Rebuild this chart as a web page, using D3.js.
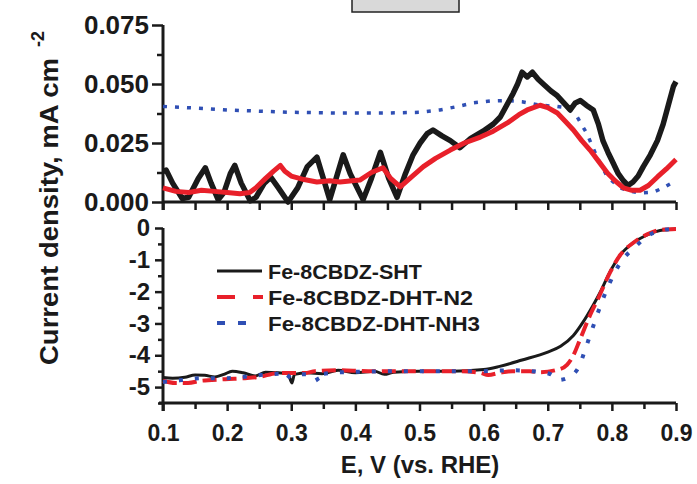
<!DOCTYPE html>
<html>
<head>
<meta charset="utf-8">
<script src="https://cdn.jsdelivr.net/npm/d3@7"></script>
<style>
  html, body { margin: 0; padding: 0; background: #fff; }
  svg { display: block; }
  text { font-family: "Liberation Sans", Arial, Helvetica, sans-serif; font-weight: bold; fill: #1a1a1a; }
</style>
</head>
<body>
<svg id="chart" width="697" height="484"></svg>
<script>
// Upper panel: background-subtracted current density (mA cm^-2) vs E
const topSHT = [
  [0.100,0.0130],[0.105,0.0135],[0.115,0.0080],[0.130,0.0015],[0.140,0.0020],[0.155,0.0100],
  [0.166,0.0145],[0.175,0.0080],[0.186,0.0010],[0.195,0.0040],[0.205,0.0120],[0.212,0.0155],
  [0.222,0.0080],[0.236,0.0005],[0.245,0.0020],[0.258,0.0080],[0.268,0.0105],[0.280,0.0060],
  [0.295,0.0000],[0.310,0.0060],[0.325,0.0150],[0.340,0.0190],[0.350,0.0100],[0.360,0.0010],
  [0.370,0.0100],[0.381,0.0200],[0.392,0.0120],[0.412,0.0010],[0.425,0.0100],[0.439,0.0210],
  [0.452,0.0100],[0.465,0.0020],[0.478,0.0120],[0.490,0.0200],[0.501,0.0250],[0.512,0.0290],
  [0.521,0.0305],[0.535,0.0280],[0.548,0.0260],[0.563,0.0230],[0.580,0.0270],[0.599,0.0300],
  [0.615,0.0330],[0.626,0.0360],[0.636,0.0410],[0.646,0.0460],[0.653,0.0500],[0.660,0.0550],
  [0.668,0.0530],[0.676,0.0550],[0.685,0.0520],[0.693,0.0500],[0.705,0.0470],[0.715,0.0450],
  [0.725,0.0420],[0.735,0.0390],[0.743,0.0420],[0.751,0.0430],[0.760,0.0410],[0.771,0.0390],
  [0.779,0.0330],[0.786,0.0260],[0.794,0.0210],[0.802,0.0165],[0.810,0.0120],[0.818,0.0090],
  [0.825,0.0070],[0.833,0.0085],[0.841,0.0110],[0.849,0.0150],[0.860,0.0200],[0.871,0.0260],
  [0.880,0.0330],[0.888,0.0410],[0.896,0.0490],[0.900,0.0510]
];
const topN2 = [
  [0.100,0.0060],[0.120,0.0045],[0.140,0.0040],[0.160,0.0050],[0.180,0.0045],[0.200,0.0040],
  [0.220,0.0035],[0.235,0.0040],[0.245,0.0060],[0.260,0.0100],[0.272,0.0130],[0.283,0.0155],
  [0.290,0.0130],[0.300,0.0110],[0.320,0.0095],[0.340,0.0085],[0.360,0.0090],[0.376,0.0085],
  [0.395,0.0090],[0.407,0.0093],[0.425,0.0125],[0.443,0.0145],[0.455,0.0100],[0.470,0.0064],
  [0.485,0.0100],[0.506,0.0150],[0.525,0.0185],[0.548,0.0220],[0.570,0.0250],[0.595,0.0275],
  [0.615,0.0300],[0.637,0.0335],[0.655,0.0370],[0.668,0.0390],[0.688,0.0410],[0.700,0.0400],
  [0.715,0.0377],[0.728,0.0340],[0.740,0.0305],[0.753,0.0260],[0.766,0.0220],[0.780,0.0170],
  [0.793,0.0123],[0.805,0.0090],[0.818,0.0060],[0.830,0.0050],[0.844,0.0050],[0.857,0.0070],
  [0.871,0.0106],[0.885,0.0140],[0.900,0.0180]
];
const topNH3 = [
  [0.100,0.0405],[0.150,0.0398],[0.200,0.0390],[0.250,0.0385],[0.300,0.0380],[0.376,0.0377],
  [0.450,0.0377],[0.500,0.0380],[0.532,0.0390],[0.560,0.0405],[0.584,0.0420],[0.610,0.0428],
  [0.637,0.0430],[0.660,0.0425],[0.688,0.0410],[0.715,0.0405],[0.730,0.0400],[0.746,0.0360],
  [0.761,0.0290],[0.777,0.0190],[0.793,0.0106],[0.813,0.0060],[0.830,0.0045],[0.844,0.0038],
  [0.865,0.0042],[0.880,0.0060],[0.896,0.0085]
];

// Lower panel: polarisation curves (mA cm^-2) vs E
const botSHT = [
  [0.100,-4.70],[0.115,-4.72],[0.134,-4.69],[0.150,-4.62],[0.165,-4.63],[0.181,-4.68],
  [0.195,-4.60],[0.208,-4.50],[0.225,-4.55],[0.244,-4.65],[0.260,-4.53],[0.280,-4.55],
  [0.295,-4.58],[0.301,-4.87],[0.305,-4.60],[0.325,-4.55],[0.348,-4.58],[0.373,-4.47],
  [0.400,-4.55],[0.430,-4.50],[0.445,-4.60],[0.460,-4.53],[0.500,-4.50],[0.550,-4.50],
  [0.600,-4.45],[0.625,-4.35],[0.660,-4.15],[0.700,-3.90],[0.720,-3.72],[0.740,-3.38],
  [0.755,-2.96],[0.771,-2.42],[0.782,-2.01],[0.797,-1.38],[0.813,-0.85],[0.833,-0.47],
  [0.855,-0.22],[0.875,-0.08],[0.900,-0.03]
];
const botN2 = [
  [0.100,-4.80],[0.119,-4.87],[0.139,-4.87],[0.160,-4.80],[0.176,-4.78],[0.197,-4.75],
  [0.228,-4.72],[0.250,-4.68],[0.279,-4.56],[0.321,-4.56],[0.337,-4.50],[0.373,-4.47],
  [0.420,-4.50],[0.500,-4.50],[0.560,-4.50],[0.595,-4.55],[0.607,-4.62],[0.625,-4.55],
  [0.645,-4.50],[0.672,-4.50],[0.688,-4.53],[0.716,-4.45],[0.730,-4.30],[0.740,-4.00],
  [0.750,-3.52],[0.766,-2.74],[0.779,-2.20],[0.797,-1.40],[0.813,-0.85],[0.833,-0.47],
  [0.855,-0.20],[0.875,-0.06],[0.900,-0.03]
];
const botNH3 = [
  [0.100,-4.84],[0.130,-4.78],[0.160,-4.72],[0.200,-4.72],[0.239,-4.65],[0.263,-4.60],
  [0.285,-4.58],[0.292,-4.75],[0.300,-4.60],[0.335,-4.60],[0.345,-4.85],[0.350,-4.58],
  [0.400,-4.52],[0.500,-4.50],[0.600,-4.50],[0.643,-4.47],[0.688,-4.53],[0.705,-4.60],
  [0.716,-4.78],[0.730,-4.72],[0.740,-4.60],[0.750,-4.30],[0.757,-3.90],[0.769,-3.20],
  [0.782,-2.45],[0.795,-1.80],[0.813,-1.10],[0.836,-0.60],[0.864,-0.16],[0.896,-0.03],
  [0.900,-0.03]
];

const seriesNames = ["Fe-8CBDZ-SHT", "Fe-8CBDZ-DHT-N2", "Fe-8CBDZ-DHT-NH3"];
const seriesColors = ["#1a1a1a", "#e8202a", "#2f4fb4"];

const xTicks = [0.1, 0.2, 0.3, 0.4, 0.5, 0.6, 0.7, 0.8, 0.9];
const topYTicks = [0, 0.025, 0.05, 0.075];
const botYTicks = [-5, -4, -3, -2, -1, 0];

const svg = d3.select("#chart");

const x = d3.scaleLinear().domain([0.1, 0.9]).range([163, 676]);
const yTop = d3.scaleLinear().domain([0, 0.075]).range([202, 25]);
const yBot = d3.scaleLinear().domain([-5.5, 0]).range([403, 228]);

const halfSteps = d3.range(0.1, 0.9001, 0.05).map(v => +v.toFixed(2));

// header box
svg.append("rect").attr("x", 352).attr("y", -2).attr("width", 107).attr("height", 14)
  .attr("fill", "#d9d9d9").attr("stroke", "#222").attr("stroke-width", 1.5);

function styleAxis(g) {
  g.selectAll(".domain").remove();
  g.selectAll(".tick line").attr("stroke", "#1a1a1a").attr("stroke-width", 2.5);
}

// ---- upper panel axes ----
svg.append("g").attr("transform", `translate(0,${yTop(0)})`)
  .call(d3.axisBottom(x).tickValues(halfSteps).tickSize(8).tickFormat(""))
  .call(styleAxis);
svg.append("g").attr("transform", `translate(${x(0.1)},0)`)
  .call(d3.axisLeft(yTop).tickValues(d3.range(0.0125, 0.075, 0.025)).tickSize(6).tickFormat(""))
  .call(styleAxis);
const tyAxis = svg.append("g").attr("transform", `translate(${x(0.1)},0)`)
  .call(d3.axisLeft(yTop).tickValues(topYTicks).tickSize(11).tickPadding(3).tickFormat(d3.format(".3f")))
  .call(styleAxis);
tyAxis.selectAll("text").style("font-size", "26px").attr("fill", "#1a1a1a");

svg.append("line").attr("x1", x(0.1)).attr("x2", x(0.9))
  .attr("y1", yTop(0)).attr("y2", yTop(0)).attr("stroke", "#1a1a1a").attr("stroke-width", 3);
svg.append("line").attr("x1", x(0.1)).attr("x2", x(0.1))
  .attr("y1", yTop(0.075)).attr("y2", yTop(0) + 8).attr("stroke", "#1a1a1a").attr("stroke-width", 3);

// ---- lower panel axes ----
svg.append("g").attr("transform", `translate(0,${yBot(-5.5)})`)
  .call(d3.axisBottom(x).tickValues(halfSteps.filter(v => !xTicks.includes(v))).tickSize(6).tickFormat(""))
  .call(styleAxis);
const bxAxis = svg.append("g").attr("transform", `translate(0,${yBot(-5.5)})`)
  .call(d3.axisBottom(x).tickValues(xTicks).tickSize(8).tickPadding(14).tickFormat(d3.format(".1f")))
  .call(styleAxis);
bxAxis.selectAll("text").style("font-size", "23px").attr("fill", "#1a1a1a");

svg.append("g").attr("transform", `translate(${x(0.1)},0)`)
  .call(d3.axisLeft(yBot).tickValues(d3.range(-5.5, 0, 1)).tickSize(5).tickFormat(""))
  .call(styleAxis);
const byAxis = svg.append("g").attr("transform", `translate(${x(0.1)},0)`)
  .call(d3.axisLeft(yBot).tickValues(botYTicks).tickSize(8).tickPadding(5).tickFormat(d => String(d)))
  .call(styleAxis);
byAxis.selectAll("text").style("font-size", "24px").attr("fill", "#1a1a1a");

svg.append("line").attr("x1", x(0.1) - 4).attr("x2", x(0.9))
  .attr("y1", yBot(-5.5)).attr("y2", yBot(-5.5)).attr("stroke", "#1a1a1a").attr("stroke-width", 3);
svg.append("line").attr("x1", x(0.1)).attr("x2", x(0.1))
  .attr("y1", yBot(0)).attr("y2", yBot(-5.5) + 8).attr("stroke", "#1a1a1a").attr("stroke-width", 3);

// ---- upper panel curves (noisy traces drawn as broad strokes) ----
const lineTop = d3.line().x(d => x(d[0])).y(d => yTop(d[1]));
svg.append("path").datum(topNH3).attr("d", lineTop).attr("fill", "none")
  .attr("stroke", seriesColors[2]).attr("stroke-width", 3.5).attr("stroke-dasharray", "4,8");
svg.append("path").datum(topSHT).attr("d", lineTop).attr("fill", "none")
  .attr("stroke", seriesColors[0]).attr("stroke-width", 5.5).attr("stroke-linejoin", "round");
svg.append("path").datum(topN2).attr("d", lineTop).attr("fill", "none")
  .attr("stroke", seriesColors[1]).attr("stroke-width", 5).attr("stroke-linejoin", "round");

// ---- lower panel curves ----
const lineBot = d3.line().x(d => x(d[0])).y(d => yBot(d[1])).curve(d3.curveMonotoneX);
svg.append("path").datum(botSHT).attr("d", lineBot).attr("fill", "none")
  .attr("stroke", seriesColors[0]).attr("stroke-width", 3);
svg.append("path").datum(botN2).attr("d", lineBot).attr("fill", "none")
  .attr("stroke", seriesColors[1]).attr("stroke-width", 4).attr("stroke-dasharray", "14,6");
svg.append("path").datum(botNH3).attr("d", lineBot).attr("fill", "none")
  .attr("stroke", seriesColors[2]).attr("stroke-width", 4).attr("stroke-dasharray", "4,12");

// ---- legend ----
const legendRows = [
  { y: 271, len: 45, dash: null, width: 3, textLen: 154 },
  { y: 297, len: 46, dash: "18,18", width: 4, textLen: 205 },
  { y: 323, len: 30, dash: "8,13", width: 4, textLen: 212 }
];
const legend = svg.append("g");
legendRows.forEach((r, i) => {
  legend.append("line").attr("x1", 217).attr("x2", 217 + r.len).attr("y1", r.y).attr("y2", r.y)
    .attr("stroke", seriesColors[i]).attr("stroke-width", r.width)
    .attr("stroke-dasharray", r.dash);
  legend.append("text").attr("x", 268).attr("y", r.y + 7.5)
    .style("font-size", "20px")
    .attr("textLength", r.textLen).attr("lengthAdjust", "spacingAndGlyphs")
    .text(seriesNames[i]);
});

// ---- axis titles ----
svg.append("text").attr("x", 420).attr("y", 473).attr("text-anchor", "middle")
  .style("font-size", "24px").text("E, V (vs. RHE)");

svg.append("text").attr("transform", "translate(58,365) rotate(-90)")
  .style("font-size", "26px")
  .attr("textLength", 307).attr("lengthAdjust", "spacingAndGlyphs")
  .text("Current density, mA cm");
svg.append("text").attr("transform", "translate(44,47) rotate(-90)")
  .style("font-size", "18px").text("-2");
</script>
</body>
</html>
